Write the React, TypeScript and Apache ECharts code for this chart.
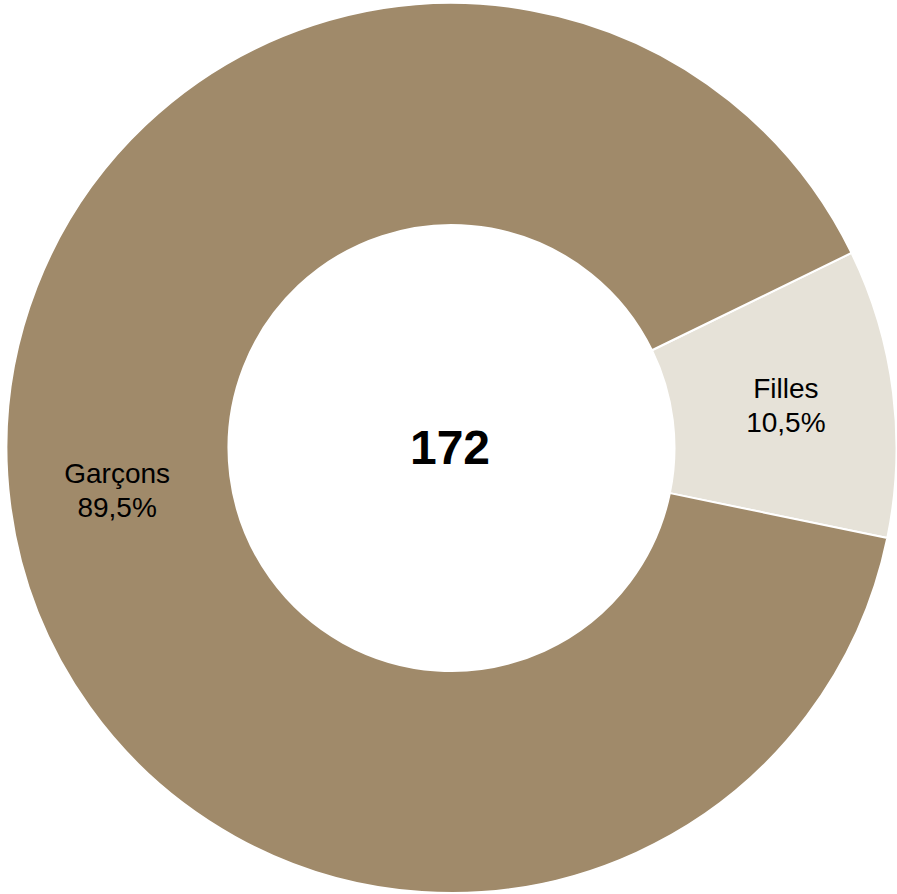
import React, { useEffect, useRef } from "react";
import * as echarts from "echarts";

const categories = ["Filles", "Garçons"];
const counts = [18, 154];
const percentLabels = ["10,5%", "89,5%"];
const colors = ["#E6E2D8", "#A08A6A"];
const totalLabel = "172";

export default function App() {
  const ref = useRef<HTMLDivElement>(null);
  useEffect(() => {
    if (!ref.current) return;
    const chart = echarts.init(ref.current, null, { renderer: "svg" });
    chart.setOption({
      animation: false,
      backgroundColor: "#ffffff",
      series: [
        {
          type: "pie",
          center: [451.5, 448],
          radius: [223, 445],
          startAngle: 26,
          clockwise: true,
          avoidLabelOverlap: false,
          itemStyle: { borderColor: "#ffffff", borderWidth: 2 },
          label: {
            show: true,
            position: "inside",
            color: "#000000",
            fontFamily: "Liberation Sans, Arial, sans-serif",
            fontSize: 28,
            lineHeight: 34,
            formatter: (p: any) => `${p.name}\n${percentLabels[p.dataIndex]}`,
          },
          labelLine: { show: false },
          emphasis: { disabled: true },
          data: categories.map((c, i) => ({
            name: c,
            value: counts[i],
            itemStyle: { color: colors[i] },
          })),
        },
      ],
      graphic: [
        {
          type: "text",
          x: 450,
          y: 447,
          style: {
            text: totalLabel,
            x: 0,
            y: 0,
            align: "center",
            verticalAlign: "middle",
            font: "bold 48px 'Liberation Sans', Arial, sans-serif",
            fill: "#000000",
          },
        },
      ],
    });
    return () => chart.dispose();
  }, []);
  return (
    <div
      ref={ref}
      style={{ position: "absolute", left: 0, top: 0, width: 897, height: 894 }}
    />
  );
}
